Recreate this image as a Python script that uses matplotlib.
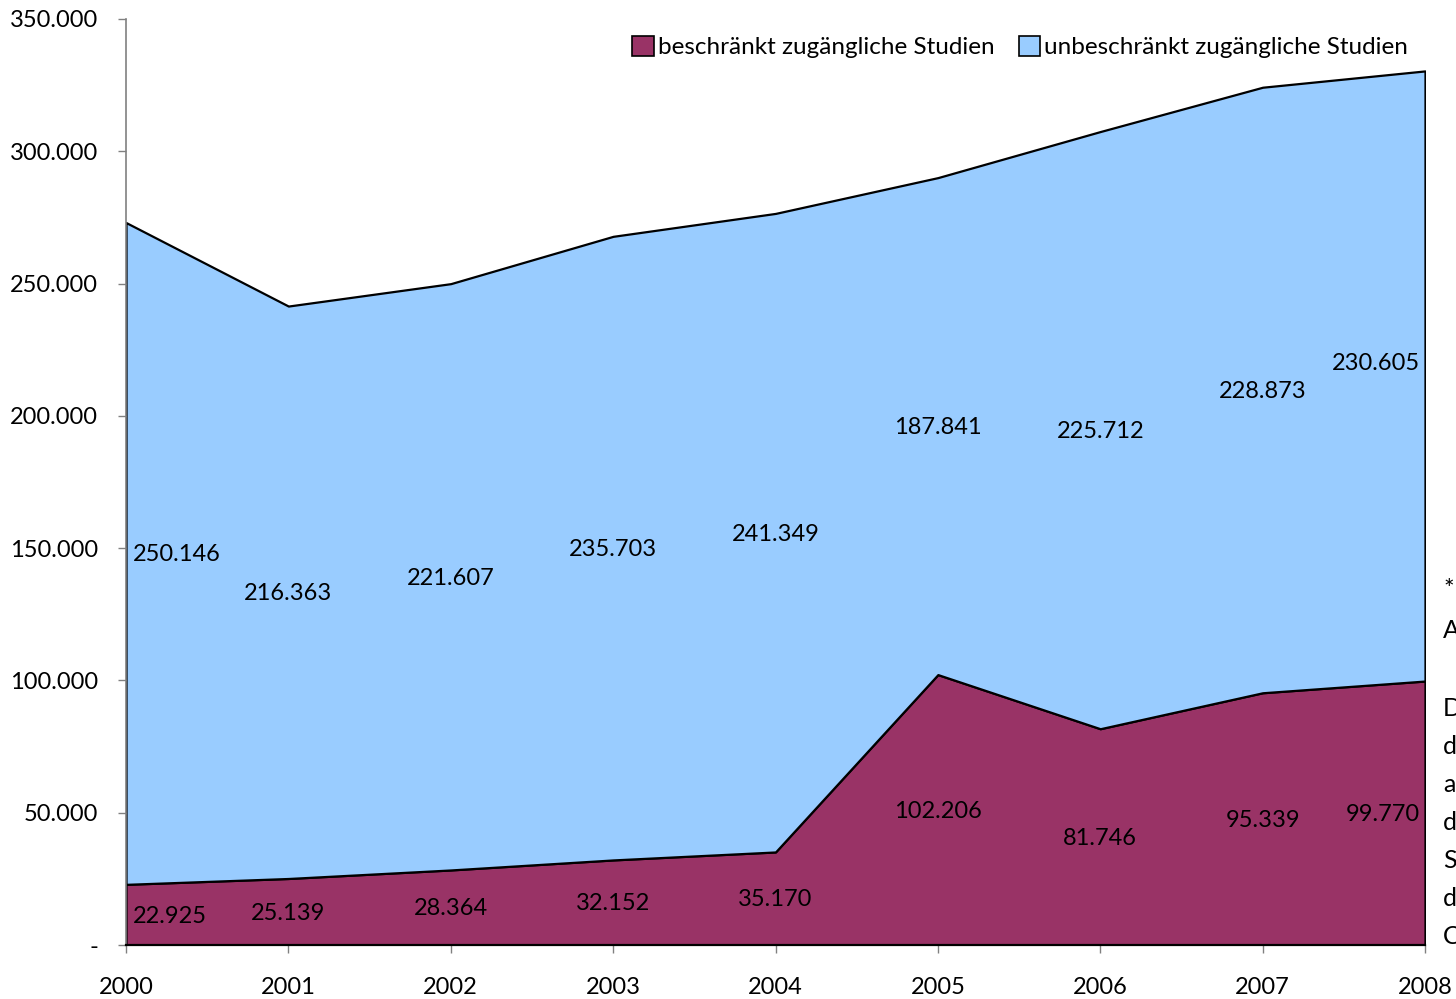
import matplotlib
matplotlib.use("Agg")
import matplotlib.pyplot as plt
from matplotlib.patches import Patch
from matplotlib.ticker import FuncFormatter

years = [2000, 2001, 2002, 2003, 2004, 2005, 2006, 2007, 2008]
beschraenkt = [22925, 25139, 28364, 32152, 35170, 102206, 81746, 95339, 99770]
unbeschraenkt = [250146, 216363, 221607, 235703, 241349, 187841, 225712, 228873, 230605]
series_names = ["beschränkt zugängliche Studien", "unbeschränkt zugängliche Studien"]
colors = ["#993366", "#99CCFF"]
y_ticks = [0, 50000, 100000, 150000, 200000, 250000, 300000, 350000]
side_letters = ["*", "A", "", "D", "d", "a", "d", "S", "d", "C"]

plt.rcParams['font.family'] = ['Lato', 'DejaVu Sans']

fig = plt.figure(figsize=(14.56, 9.99), dpi=100)
ax = fig.add_axes([126/1456, 1-945/999, (1425-126)/1456, (945-19)/999])

ax.stackplot(years, beschraenkt, unbeschraenkt, colors=colors,
             edgecolor="black", linewidth=1.6)

def fmt(v):
    return f"{v:,.0f}".replace(",", ".")

for i, yr in enumerate(years):
    b = beschraenkt[i]
    u = unbeschraenkt[i]
    if i == 0:
        ha = "left"; dx = 0.04
    elif i == len(years) - 1:
        ha = "right"; dx = -0.03
    else:
        ha = "center"; dx = 0
    dy = 9 if i == len(years) - 1 else -1
    ax.annotate(fmt(b), (yr + dx, b / 2), xytext=(0, -1), textcoords="offset points",
                ha=ha, va="center", fontsize=17)
    ax.annotate(fmt(u), (yr + dx, b + u / 2), xytext=(0, dy), textcoords="offset points",
                ha=ha, va="center", fontsize=17)

ax.set_xlim(years[0], years[-1])
ax.set_ylim(0, 350000)
ax.set_xticks(years)
ax.set_yticks(y_ticks)
ax.yaxis.set_major_formatter(FuncFormatter(lambda v, p: "-" if v == 0 else fmt(v)))

ax.spines["top"].set_visible(False)
ax.spines["right"].set_visible(False)
ax.spines["left"].set_color("#808080")
ax.spines["left"].set_linewidth(1.2)
ax.spines["bottom"].set_color("black")
ax.spines["bottom"].set_linewidth(1.6)
ax.tick_params(axis="y", direction="out", length=6, width=1, color="#808080",
               labelsize=17, pad=14)
ax.tick_params(axis="x", direction="out", length=6, width=1, color="#808080",
               labelsize=17, pad=17)

handles = [Patch(facecolor=c, edgecolor="black", linewidth=1.2) for c in colors]
ax.legend(handles, series_names, loc="upper right", bbox_to_anchor=(1.0, 1.0),
          ncol=2, frameon=False, fontsize=17.5, handlelength=0.9, handleheight=0.9,
          handletextpad=0.15, columnspacing=1.0, borderaxespad=0.3)

ys = [589, 631, 670, 709, 747, 785, 823, 861, 899, 937]
for ch, yp in zip(side_letters, ys):
    if ch:
        fig.text(1443/1456, 1 - yp/999, ch, ha="left", va="center", fontsize=18)

fig.savefig("out.png", dpi=100)
